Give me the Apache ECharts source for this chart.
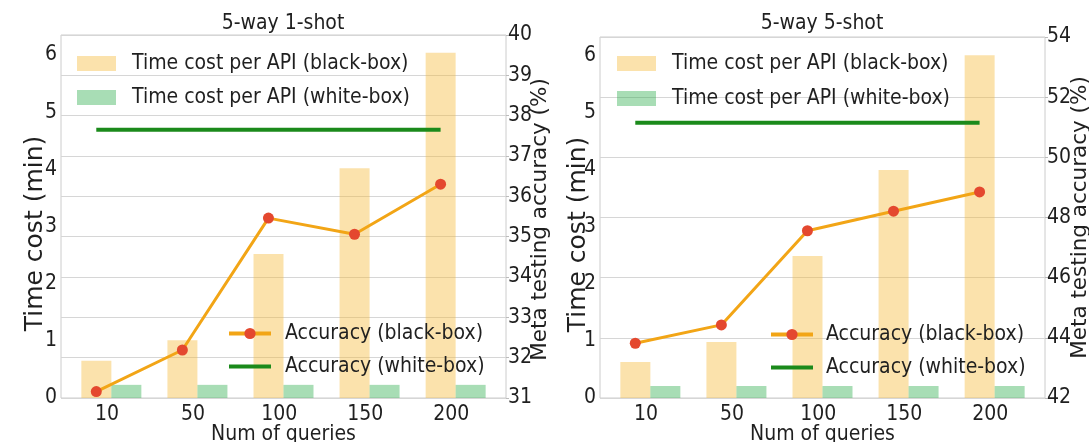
<!DOCTYPE html>
<html>
<head>
<meta charset="utf-8">
<script src="https://cdn.jsdelivr.net/npm/echarts@6/dist/echarts.min.js"></script>
<style>
html,body{margin:0;padding:0;background:#fff;}
#c{width:1089px;height:442px;}
</style>
</head>
<body>
<div id="c"></div>
<script>
// ---- data ----
const categories = ['10', '50', '100', '150', '200'];
const titles = ['5-way 1-shot', '5-way 5-shot'];
const blackCost1 = [0.65, 1.01, 2.52, 4.02, 6.04];
const whiteCost1 = [0.23, 0.23, 0.23, 0.23, 0.23];
const blackAcc1 = [31.16, 32.19, 35.46, 35.06, 36.30];
const whiteAcc1 = [37.65, 37.65, 37.65, 37.65, 37.65];
const blackCost2 = [0.63, 0.98, 2.49, 4.00, 6.01];
const whiteCost2 = [0.21, 0.21, 0.21, 0.21, 0.21];
const blackAcc2 = [43.82, 44.43, 47.56, 48.21, 48.85];
const whiteAcc2 = [51.15, 51.15, 51.15, 51.15, 51.15];
const costTicks = [0, 1, 2, 3, 4, 5, 6];
const accTicks1 = [31, 32, 33, 34, 35, 36, 37, 38, 39, 40];
const accTicks2 = [42, 44, 46, 48, 50, 52, 54];

const N_BB = 'Time cost per API (black-box)';
const N_WB = 'Time cost per API (white-box)';
const N_ABB = 'Accuracy (black-box)';
const N_AWB = 'Accuracy (white-box)';

const FONT = "'DejaVu Sans Condensed', 'DejaVu Sans', sans-serif";
const FONT_V = "'DejaVu Sans', sans-serif";
const TXT = '#1f1f1f';
const HALF = 0.175; // half bar width in category units (line sits on black-box bar centre)

const chart = echarts.init(document.getElementById('c'), null, {renderer: 'canvas'});

function xAxisFor(g) {
  return {
    gridIndex: g, type: 'value', min: -0.585, max: 4.585,
    name: 'Num of queries', nameLocation: 'middle', nameGap: 26, nameMoveOverlap: false,
    nameTextStyle: {fontFamily: FONT, fontSize: 21, color: TXT},
    axisLine: {show: false}, axisTick: {show: false}, splitLine: {show: false},
    axisLabel: {
      customValues: categories.map((c, i) => i - 0.05),
      formatter: v => categories[Math.round(v)],
      fontFamily: FONT, fontSize: 21, color: TXT, margin: 6
    }
  };
}
function leftY(g, max, gap) {
  return {
    gridIndex: g, type: 'value', min: 0, max: max, interval: 1, position: 'left',
    name: 'Time cost (min)', nameLocation: 'middle', nameGap: gap, nameMoveOverlap: false,
    nameTextStyle: {fontFamily: FONT_V, fontSize: 25, color: TXT, padding: [0, 34, 0, 0]},
    axisLine: {show: false}, axisTick: {show: false}, splitLine: {show: false},
    axisLabel: {
      formatter: v => (costTicks.indexOf(v) >= 0 ? String(v) : ''),
      fontFamily: FONT, fontSize: 21, color: TXT, margin: 4
    }
  };
}
function rightY(g, ticks, interval, gap, shift) {
  return {
    gridIndex: g, type: 'value', min: ticks[0], max: ticks[ticks.length - 1], interval: interval,
    position: 'right',
    name: 'Meta testing accuracy (%)', nameLocation: 'middle', nameGap: gap, nameMoveOverlap: false,
    nameTextStyle: {fontFamily: FONT_V, fontSize: 21.5, color: TXT, padding: [0, shift, 0, 0]},
    axisLine: {show: false},
    axisTick: {show: true, length: 3, lineStyle: {color: '#bbbbbb'}},
    splitLine: {show: true, lineStyle: {color: '#d6d6d6', width: 1.2}},
    axisLabel: {fontFamily: FONT, fontSize: 21, color: TXT, margin: 2}
  };
}
function seriesFor(g, bc, wc, ba, wa) {
  return [
    {name: N_BB, type: 'bar', xAxisIndex: g, yAxisIndex: 2 * g, barWidth: 30, barGap: '0%',
     itemStyle: {color: 'rgba(245,185,58,0.42)'}, data: bc.map((v, i) => [i, v]), z: 2},
    {name: N_WB, type: 'bar', xAxisIndex: g, yAxisIndex: 2 * g, barWidth: 30, barGap: '0%',
     itemStyle: {color: 'rgba(38,170,70,0.4)'}, data: wc.map((v, i) => [i, v]), z: 2},
    {name: N_ABB, type: 'line', xAxisIndex: g, yAxisIndex: 2 * g + 1, symbol: 'circle', symbolSize: 11,
     itemStyle: {color: '#e4482f'}, lineStyle: {color: '#f2a516', width: 3},
     data: ba.map((v, i) => [i - HALF, v]), z: 4},
    {name: N_AWB, type: 'line', xAxisIndex: g, yAxisIndex: 2 * g + 1, symbol: 'none',
     itemStyle: {color: '#1b8a1b'}, lineStyle: {color: '#1b8a1b', width: 4},
     data: wa.map((v, i) => [i - HALF, v]), z: 3}
  ];
}
function barLegend(left, top, gap) {
  return {
    data: [N_BB, N_WB], orient: 'vertical', left: left, top: top, padding: 0,
    itemWidth: 39, itemHeight: 15, itemGap: gap, selectedMode: false, icon: 'rect',
    textStyle: {fontFamily: FONT, fontSize: 21, color: TXT, lineHeight: 21, padding: [0, 0, 0, 11]}
  };
}
function lineLegend(left, top, gap, pad) {
  return {
    data: [
      {name: N_ABB, lineStyle: {width: 4}},
      {name: N_AWB, lineStyle: {width: 4}, itemStyle: {opacity: 0}}
    ],
    orient: 'vertical', left: left, top: top, padding: 0,
    itemWidth: 42, itemHeight: 14, itemGap: gap, selectedMode: false,
    textStyle: {fontFamily: FONT, fontSize: 21, color: TXT, lineHeight: 21, padding: [0, 0, 0, pad]}
  };
}

const option = {
  animation: false,
  backgroundColor: '#ffffff',
  title: [
    {text: titles[0], left: 283, top: 13, textAlign: 'center', padding: 0,
     textStyle: {fontFamily: FONT, fontSize: 21, fontWeight: 'normal', color: TXT}},
    {text: titles[1], left: 822, top: 13, textAlign: 'center', padding: 0,
     textStyle: {fontFamily: FONT, fontSize: 21, fontWeight: 'normal', color: TXT}}
  ],
  grid: [
    {left: 61, right: 583, top: 35, bottom: 44, outerBoundsMode: 'none', containLabel: false,
     show: true, borderColor: '#cccccc', borderWidth: 1, backgroundColor: 'transparent'},
    {left: 600, right: 44, top: 37, bottom: 44, outerBoundsMode: 'none', containLabel: false,
     show: true, borderColor: '#cccccc', borderWidth: 1, backgroundColor: 'transparent'}
  ],
  legend: [
    barLegend(77, 53, 13),
    lineLegend(227, 323, 12, 9),
    barLegend(617, 53, 14),
    lineLegend(769, 324, 12, 8)
  ],
  xAxis: [xAxisFor(0), xAxisFor(1)],
  yAxis: [leftY(0, 6.35, 13), rightY(0, accTicks1, 1, 23, 6), leftY(1, 6.33, 9), rightY(1, accTicks2, 2, 24, 0)],
  series: [].concat(
    seriesFor(0, blackCost1, whiteCost1, blackAcc1, whiteAcc1),
    seriesFor(1, blackCost2, whiteCost2, blackAcc2, whiteAcc2)
  )
};
chart.setOption(option);
</script>
</body>
</html>
